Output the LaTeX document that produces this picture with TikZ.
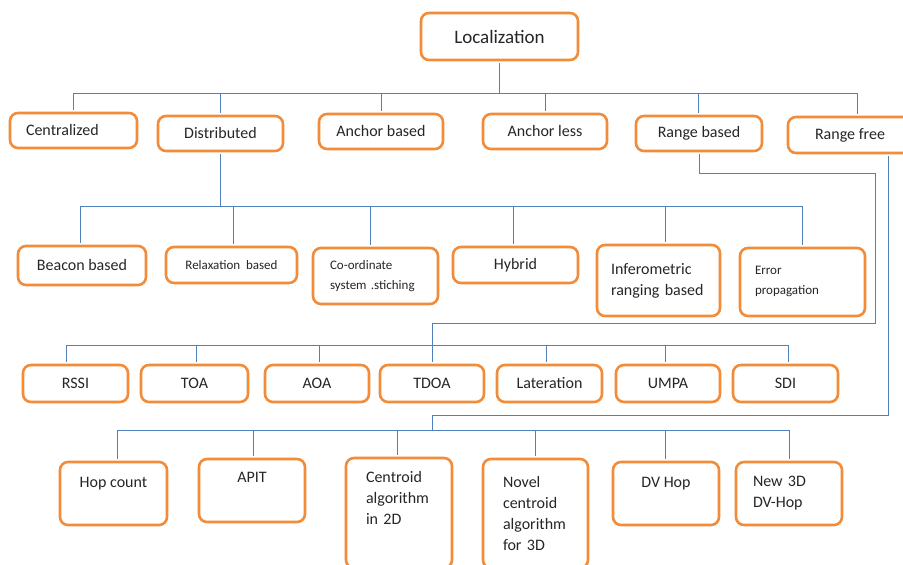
\documentclass[tikz,border=0pt]{standalone}
\usepackage{fontspec}
\setmainfont{Carlito}
\usepackage{tikz}
\usetikzlibrary{positioning,calc}
\definecolor{boxorange}{RGB}{242,140,58}
\definecolor{linkblue}{RGB}{79,129,189}
\tikzset{box/.style={draw=boxorange,line width=2.6pt,rounded corners=8pt,fill=white,inner sep=3pt,text=black!85,align=center}}
\tikzset{textup/.style={text height=11pt,text depth=#1}}

\begin{document}
\begin{tikzpicture}[x=1pt, y=-1pt, font=\fontsize{16}{21}\selectfont]
        \tikzstyle{link}=[draw=linkblue, line width=1pt, shorten >=1.3pt]
        \tikzstyle{small}=[font=\fontsize{13}{20}\selectfont]
        \useasboundingbox (0,0) rectangle (903,565);
        % root
        \node[box, minimum width=157pt, minimum height=47pt, font=\fontsize{19}{23}\selectfont] (loc) at (499.5,36.5) {Localization};
        % first level
        \node[box, minimum width=127pt, minimum height=35pt, text width=95pt, align=left] (cen) at (73.5,130.5) {Centralized};
        \node[box, minimum width=125pt, minimum height=35pt] (dis) at (220.5,133.5) {Distributed};
        \node[box, minimum width=124pt, minimum height=35pt] (anb) at (381,131.5) {Anchor based};
        \node[box, minimum width=124pt, minimum height=35pt] (anl) at (545,131.5) {Anchor less};
        \node[box, minimum width=126pt, minimum height=35pt] (rb) at (699,133.5) {Range based};
        \node[box, minimum width=124pt, minimum height=36pt] (rf) at (850,135) {Range free};
        % distributed
        \node[box, minimum width=128pt, minimum height=39pt] (bea) at (82,265.5) {Beacon based};
        \node[box, small, minimum width=131pt, minimum height=36pt] (rel) at (231.5,265) {Relaxation\ \ based};
        \node[box, small, minimum width=125pt, minimum height=56pt, text width=91pt, align=left] (coo) at (375.5,276) {Co-ordinate\\system .stiching};
        \node[box, minimum width=125pt, minimum height=36pt] (hyb) at (515.5,265) {Hybrid};
        \node[box, minimum width=123pt, minimum height=71pt, text width=95pt, align=left] (inf) at (658.5,280.5) {Inferometric\\ranging based};
        \node[box, small, textup=27pt, minimum width=125pt, minimum height=68pt, text width=95pt, align=left] (err) at (802.5,282) {Error\\propagation};
        % range based
        \node[box, minimum width=105pt, minimum height=37pt] (rssi) at (75.5,383.5) {RSSI};
        \node[box, minimum width=107pt, minimum height=37pt] (toa) at (194.5,383.5) {TOA};
        \node[box, minimum width=104pt, minimum height=37pt] (aoa) at (317,383.5) {AOA};
        \node[box, minimum width=104pt, minimum height=37pt] (tdoa) at (432,383.5) {TDOA};
        \node[box, minimum width=105pt, minimum height=37pt] (lat) at (549.5,383.5) {Lateration};
        \node[box, minimum width=104pt, minimum height=37pt] (umpa) at (668,383.5) {UMPA};
        \node[box, minimum width=105pt, minimum height=37pt] (sdi) at (785.5,383.5) {SDI};
        % range free
        \node[box, textup=23pt, minimum width=107pt, minimum height=63pt] (hop) at (113.5,493.5) {Hop count};
        \node[box, textup=27pt, minimum width=106pt, minimum height=63pt] (apit) at (252,490.5) {APIT};
        \node[box, textup=73pt, minimum width=106pt, minimum height=110pt, text width=66pt, align=left] (cen2) at (399,513) {Centroid\\algorithm\\in 2D};
        \node[box, minimum width=105pt, minimum height=109pt, text width=65pt, align=left] (nov) at (535.5,513.5) {Novel\\centroid\\algorithm\\for 3D};
        \node[box, textup=23pt, minimum width=106pt, minimum height=63pt] (dvh) at (666,493.5) {DV Hop};
        \node[box, minimum width=106pt, minimum height=63pt, text width=72pt, align=left] (new) at (789,493.5) {New 3D\\DV-Hop};
        % connectors
        \coordinate (b1) at (499.5,93);
        \draw[link] (b1) -- (loc.south);
        \foreach \n/\s in {cen/0,dis/0,anb/0,anl/0,rb/-1,rf/7}
            \draw[link] (b1) -| ([xshift=\s pt]\n.north);
        \coordinate (b2) at (220.5,206);
        \draw[link] (b2) -- (dis.south);
        \foreach \n/\s in {bea/-2,rel/2,coo/-5,hyb/-2,inf/7,err/0}
            \draw[link] (b2) -| ([xshift=\s pt]\n.north);
        \coordinate (b3) at (432,345);
        \coordinate (rbc) at (875,323);
        \coordinate (rbt) at (875,173);
        \draw[link] (b3) |- (rbc) -- (rbt) -| (rb.south);
        \foreach \n/\s in {rssi/-9,toa/2,aoa/2,tdoa/0,lat/-3,umpa/-3,sdi/3}
            \draw[link] (b3) -| ([xshift=\s pt]\n.north);
        \coordinate (b4) at (432,430);
        \coordinate (rfc) at (432,415);
        \draw[link] (b4) -- (rfc) -| ([xshift=38pt]rf.south);
        \foreach \n/\s in {hop/4,apit/1,cen2/-2,nov/0,dvh/-1,new/0}
            \draw[link] (b4) -| ([xshift=\s pt]\n.north);
\end{tikzpicture}
\end{document}
